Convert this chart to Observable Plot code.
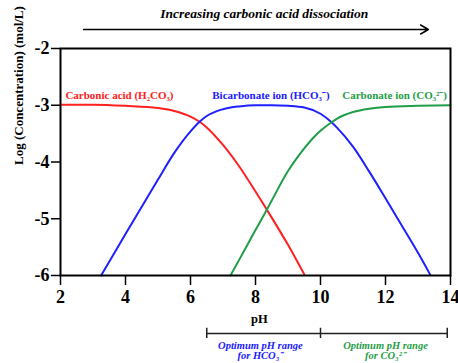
<!DOCTYPE html>
<html>
<head>
<meta charset="utf-8">
<script src="https://cdn.jsdelivr.net/npm/d3@7"></script>
<script src="https://cdn.jsdelivr.net/npm/@observablehq/plot@0.6"></script>
<style>
  html, body { margin: 0; padding: 0; background: white; }
</style>
</head>
<body>
<div id="chart"></div>
<script>
// Tick labels
const xTicks = [2, 4, 6, 8, 10, 12, 14];
const yTicks = [-6, -5, -4, -3, -2];

// Carbonic acid (H2CO3)
const acidPH  = [2, 3, 4, 5, 5.5, 6, 6.28, 6.5, 7, 7.5, 8, 8.5, 9, 9.5];
const acidLog = [-2.99, -2.99, -3.01, -3.05, -3.10, -3.20, -3.29, -3.39, -3.70, -4.08, -4.52, -4.98, -5.46, -5.98];

// Bicarbonate ion (HCO3-)
const bicarbPH  = [3.25, 4, 5, 5.5, 6, 6.28, 6.5, 7, 7.5, 8, 8.5, 9, 9.5, 10, 10.34, 10.5, 11, 11.5, 12, 12.5, 13, 13.38];
const bicarbLog = [-6.0, -5.27, -4.31, -3.84, -3.46, -3.29, -3.19, -3.07, -3.02, -3.0, -3.0, -3.01, -3.04, -3.15, -3.30, -3.39, -3.73, -4.17, -4.64, -5.12, -5.60, -5.99];

// Carbonate ion (CO3 2-)
const carbPH  = [7.23, 7.5, 8, 8.34, 8.5, 9, 9.25, 9.5, 9.75, 10, 10.34, 10.5, 11, 11.5, 12, 13, 14];
const carbLog = [-6.0, -5.72, -5.20, -4.85, -4.68, -4.16, -3.95, -3.76, -3.59, -3.45, -3.30, -3.24, -3.12, -3.06, -3.03, -3.01, -3.0];

// Series names
const seriesNames = ["Carbonic acid (H₂CO₃)", "Bicarbonate ion (HCO₃⁻)", "Carbonate ion (CO₃²⁻)"];
const seriesColors = ["#ff2020", "#2020ff", "#1f9e48"];
const labelPH = [2.15, 6.67, 10.67];
const labelLog = [-2.82, -2.82, -2.82];

// Optimum ranges (pH)
const rangeEdges = [6.5, 10, 13.9];
const rangeNames = [["Optimum pH range", "for HCO₃⁻"], ["Optimum pH range", "for CO₃²⁻"]];
const rangeCenters = [8.15, 12.0];

const toRows = (xs, ys) => xs.map((x, i) => ({x, y: ys[i]}));
const acid = toRows(acidPH, acidLog);
const bicarb = toRows(bicarbPH, bicarbLog);
const carb = toRows(carbPH, carbLog);

const labels = seriesNames.map((name, i) => ({name, x: labelPH[i], y: labelLog[i], color: seriesColors[i]}));
const rangeText = [];
rangeNames.forEach((lines, i) => lines.forEach((t, j) => rangeText.push({t, x: rangeCenters[i], y: j === 0 ? -7.23 : -7.41, color: seriesColors[i + 1]})));

const serif = "'Liberation Serif', 'Times New Roman', serif";

const chart = Plot.plot({
  width: 458,
  height: 363,
  marginTop: 48,
  marginBottom: 88,
  marginLeft: 60,
  marginRight: 8,
  style: {fontFamily: serif, background: "white", color: "black"},
  x: {domain: [2, 14]},
  y: {domain: [-6, -2]},
  marks: [
    Plot.axisX({ticks: xTicks, tickSize: 10, tickPadding: 5, fontSize: 18, fontWeight: "bold", strokeWidth: 1.5, label: null, tickFormat: d => String(d)}),
    Plot.axisY({ticks: yTicks, tickSize: 9, tickPadding: 2, fontSize: 18, fontWeight: "bold", strokeWidth: 1.5, label: null, tickFormat: d => String(d)}),
    Plot.line(acid, {x: "x", y: "y", stroke: seriesColors[0], strokeWidth: 2, curve: "monotone-x"}),
    Plot.line(bicarb, {x: "x", y: "y", stroke: seriesColors[1], strokeWidth: 2, curve: "monotone-x"}),
    Plot.line(carb, {x: "x", y: "y", stroke: seriesColors[2], strokeWidth: 2, curve: "monotone-x"}),
    Plot.frame({stroke: "black", strokeWidth: 2}),
    Plot.text(labels, {x: "x", y: "y", text: "name", fill: "color", textAnchor: "start", fontSize: 11, fontWeight: "bold"}),
    // y-axis title
    Plot.text(["Log (Concentration) (mol/L)"], {frameAnchor: "left", rotate: -90, dx: -42, dy: 3, fontSize: 13, fontWeight: "bold"}),
    // x-axis title
    Plot.text(["pH"], {x: () => 8.12, y: () => -6.775, fontSize: 12.5, fontWeight: "bold"}),
    // top title and arrow
    Plot.text(["Increasing carbonic acid dissociation"], {x: () => 8.27, y: () => -1.383, fontSize: 13.5, fontWeight: "bold", fontStyle: "italic"}),
    Plot.arrow([{x1: 2.71, x2: 13.32, y: -1.665}], {x1: "x1", x2: "x2", y1: "y", y2: "y", stroke: "black", strokeWidth: 1.5, headLength: 9}),
    // bracket
    Plot.link([{x1: rangeEdges[0], x2: rangeEdges[2], y: -7.02}], {x1: "x1", x2: "x2", y1: "y", y2: "y", stroke: "#222", strokeWidth: 1.5}),
    Plot.ruleX(rangeEdges, {x: d => d, y1: -6.93, y2: -7.11, stroke: "#222", strokeWidth: 1.5}),
    Plot.text(rangeText, {x: "x", y: "y", text: "t", fill: "color", fontSize: 10.5, fontWeight: "bold", fontStyle: "italic"})
  ]
});
document.getElementById("chart").appendChild(chart);
</script>
</body>
</html>
